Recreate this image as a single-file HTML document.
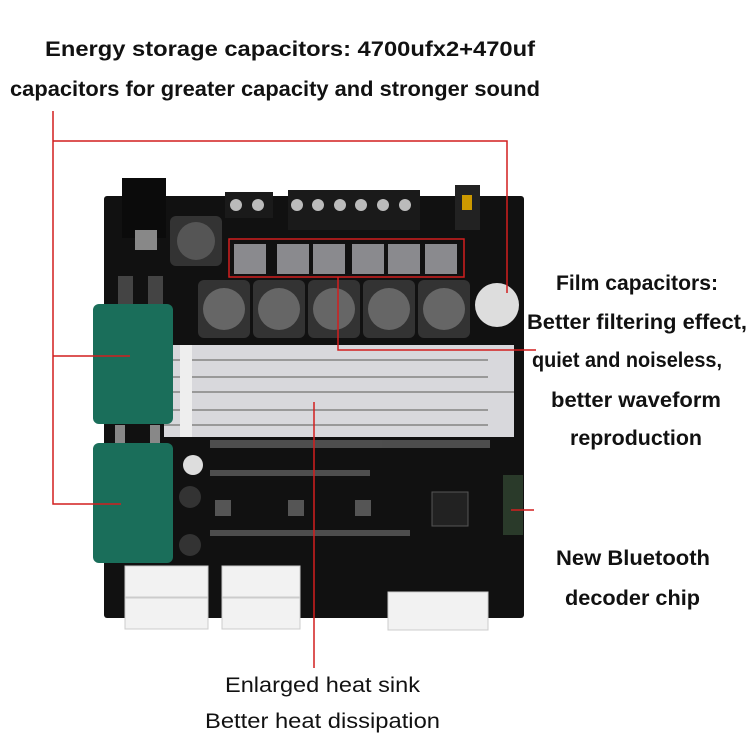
<!DOCTYPE html>
<html><head><style>
body{margin:0;background:#fff;}
.t{font-family:"Liberation Sans",sans-serif;font-weight:bold;font-size:21px;fill:#111;}
.n{font-family:"Liberation Sans",sans-serif;font-size:21px;fill:#111;}
</style></head><body>
<svg width="750" height="750" xmlns="http://www.w3.org/2000/svg">
<rect width="750" height="750" fill="#fff"/>
<text class="t" x="45" y="56" textLength="490" lengthAdjust="spacingAndGlyphs">Energy storage capacitors: 4700ufx2+470uf</text>
<text class="t" x="10" y="96" textLength="530" lengthAdjust="spacingAndGlyphs">capacitors for greater capacity and stronger sound</text>
<!-- board -->
<rect x="104" y="196" width="420" height="422" fill="#111" rx="3"/>
<rect x="122" y="178" width="44" height="60" fill="#0b0b0b"/>
<rect x="135" y="230" width="22" height="20" fill="#888"/>
<rect x="225" y="192" width="48" height="26" fill="#1a1a1a"/>
<rect x="288" y="190" width="132" height="40" fill="#1a1a1a"/>
<g fill="#bbb"><circle cx="236" cy="205" r="6"/><circle cx="258" cy="205" r="6"/>
<circle cx="297" cy="205" r="6"/><circle cx="318" cy="205" r="6"/><circle cx="340" cy="205" r="6"/><circle cx="361" cy="205" r="6"/><circle cx="383" cy="205" r="6"/><circle cx="405" cy="205" r="6"/></g>
<rect x="455" y="185" width="25" height="45" fill="#222"/><rect x="462" y="195" width="10" height="15" fill="#c90"/>
<rect x="170" y="216" width="52" height="50" rx="6" fill="#333"/><circle cx="196" cy="241" r="19" fill="#555"/>
<g fill="#8a8a8e"><rect x="234" y="244" width="32" height="30"/><rect x="277" y="244" width="32" height="30"/><rect x="313" y="244" width="32" height="30"/><rect x="352" y="244" width="32" height="30"/><rect x="388" y="244" width="32" height="30"/><rect x="425" y="244" width="32" height="30"/></g>
<g fill="#333"><rect x="198" y="280" width="52" height="58" rx="6"/><rect x="253" y="280" width="52" height="58" rx="6"/><rect x="308" y="280" width="52" height="58" rx="6"/><rect x="363" y="280" width="52" height="58" rx="6"/><rect x="418" y="280" width="52" height="58" rx="6"/></g>
<g fill="#666"><circle cx="224" cy="309" r="21"/><circle cx="279" cy="309" r="21"/><circle cx="334" cy="309" r="21"/><circle cx="389" cy="309" r="21"/><circle cx="444" cy="309" r="21"/></g>
<circle cx="497" cy="305" r="22" fill="#ddd"/>
<rect x="118" y="276" width="15" height="28" fill="#444"/><rect x="148" y="276" width="15" height="28" fill="#444"/>
<!-- heatsink -->
<rect x="164" y="345" width="350" height="92" fill="#d8d8dc"/>
<g stroke="#999" stroke-width="2"><line x1="164" y1="360" x2="488" y2="360"/><line x1="164" y1="377" x2="488" y2="377"/><line x1="164" y1="392" x2="514" y2="392"/><line x1="164" y1="410" x2="488" y2="410"/><line x1="164" y1="425" x2="488" y2="425"/></g>
<rect x="180" y="345" width="12" height="92" fill="#eee"/>
<!-- caps -->
<rect x="93" y="304" width="80" height="120" rx="6" fill="#1a6e5a"/>
<rect x="93" y="443" width="80" height="120" rx="6" fill="#1a6e5a"/>
<rect x="115" y="425" width="10" height="18" fill="#888"/><rect x="150" y="425" width="10" height="18" fill="#888"/>
<circle cx="193" cy="465" r="10" fill="#ddd"/><circle cx="190" cy="497" r="11" fill="#333"/><circle cx="190" cy="545" r="11" fill="#333"/>
<!-- chips -->
<rect x="432" y="492" width="36" height="34" fill="#222" stroke="#555"/>
<rect x="503" y="475" width="20" height="60" fill="#2a3a2a"/>
<g fill="#555"><rect x="215" y="500" width="16" height="16"/><rect x="288" y="500" width="16" height="16"/><rect x="355" y="500" width="16" height="16"/></g>
<g fill="#777" opacity=".6"><rect x="210" y="440" width="280" height="8"/><rect x="210" y="470" width="160" height="6"/><rect x="210" y="530" width="200" height="6"/></g>
<!-- connectors -->
<g fill="#f2f2f2" stroke="#ccc"><rect x="125" y="566" width="83" height="31"/><rect x="125" y="598" width="83" height="31"/><rect x="222" y="566" width="78" height="31"/><rect x="222" y="598" width="78" height="31"/><rect x="388" y="592" width="100" height="38"/></g>
<!-- red lines -->
<g stroke="#d21f1f" stroke-width="1.5" fill="none">
<polyline points="53,111 53,504 121,504"/>
<line x1="53" y1="356" x2="130" y2="356"/>
<polyline points="53,141 507,141 507,293"/>
<rect x="229" y="239" width="235" height="38"/>
<polyline points="338,277 338,350 536,350"/>
<line x1="314" y1="402" x2="314" y2="668"/>
<line x1="511" y1="510" x2="534" y2="510"/>
</g>
<text class="t" x="556" y="290" textLength="162" lengthAdjust="spacingAndGlyphs">Film capacitors:</text>
<text class="t" x="527" y="329" textLength="220" lengthAdjust="spacingAndGlyphs">Better filtering effect,</text>
<text class="t" x="532" y="367" textLength="190" lengthAdjust="spacingAndGlyphs">quiet and noiseless,</text>
<text class="t" x="551" y="407" textLength="170" lengthAdjust="spacingAndGlyphs">better waveform</text>
<text class="t" x="570" y="445" textLength="132" lengthAdjust="spacingAndGlyphs">reproduction</text>
<text class="t" x="556" y="565" textLength="154" lengthAdjust="spacingAndGlyphs">New Bluetooth</text>
<text class="t" x="565" y="605" textLength="135" lengthAdjust="spacingAndGlyphs">decoder chip</text>
<text class="n" x="225" y="692" textLength="195" lengthAdjust="spacingAndGlyphs">Enlarged heat sink</text>
<text class="n" x="205" y="728" textLength="235" lengthAdjust="spacingAndGlyphs">Better heat dissipation</text>
</svg>
</body></html>
